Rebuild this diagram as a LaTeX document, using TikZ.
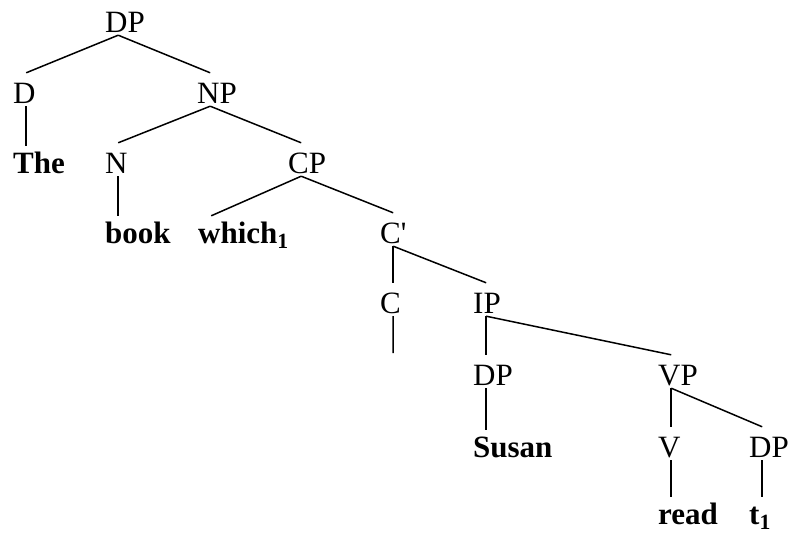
\documentclass[tikz,border=0pt]{standalone}
\usepackage{fontspec}
\setmainfont{Liberation Serif}
\hyphenpenalty=10000
\tikzset{
  cat/.style={inner sep=0pt, text width=26pt, align=left, text height=30pt, text depth=3pt, anchor=base west, font=\fontsize{31}{31}\selectfont},
  word/.style={cat, text height=27pt, font=\fontsize{31}{31}\selectfont\bfseries},
  branch/.style={line width=1.5pt}
}
\begin{document}
\begin{tikzpicture}[x=1pt, y=-1pt]
  \useasboundingbox (0,0) rectangle (790,533);
  % phrase labels: name/left/baseline/text
  \foreach \N/\X/\Y/\T in {dp/105/32/DP, d/13/103/D, np/197/103/NP, n/105/173/N, cp/288/173/CP, cbar/380/243/C\textquotesingle, c/380/313/C, ip/473/313/IP, dps/473/385/DP, vp/658/385/VP, v/658/457/V, dpt/749/457/DP}
    \node[cat] (\N) at (\X,\Y) {\T};
  % terminals
  \foreach \N/\X/\Y/\T in {the/13/173/The, book/105/243/book, which/198/243/which\textsubscript{1}, susan/473/457/Susan, read/658/524/read, t/749/524/t\textsubscript{1}}
    \node[word] (\N) at (\X,\Y) {\T};
  \coordinate (cnull) at (393,353);
  % slanted branches
  \foreach \A/\B in {dp/d, dp/np, np/n, np/cp, cp/which, cp/cbar, cbar/ip, ip/vp, vp/dpt}
    \draw[branch] (\A.south) -- (\B.north);
  % straight branches
  \foreach \A/\B in {d/the, n/book, cbar/c, ip/dps, dps/susan, vp/v, v/read, dpt/t}
    \draw[branch] (\A.south) -- (\A.south |- \B.north);
  \draw[branch] (c.south) -- (cnull);
\end{tikzpicture}
\end{document}
